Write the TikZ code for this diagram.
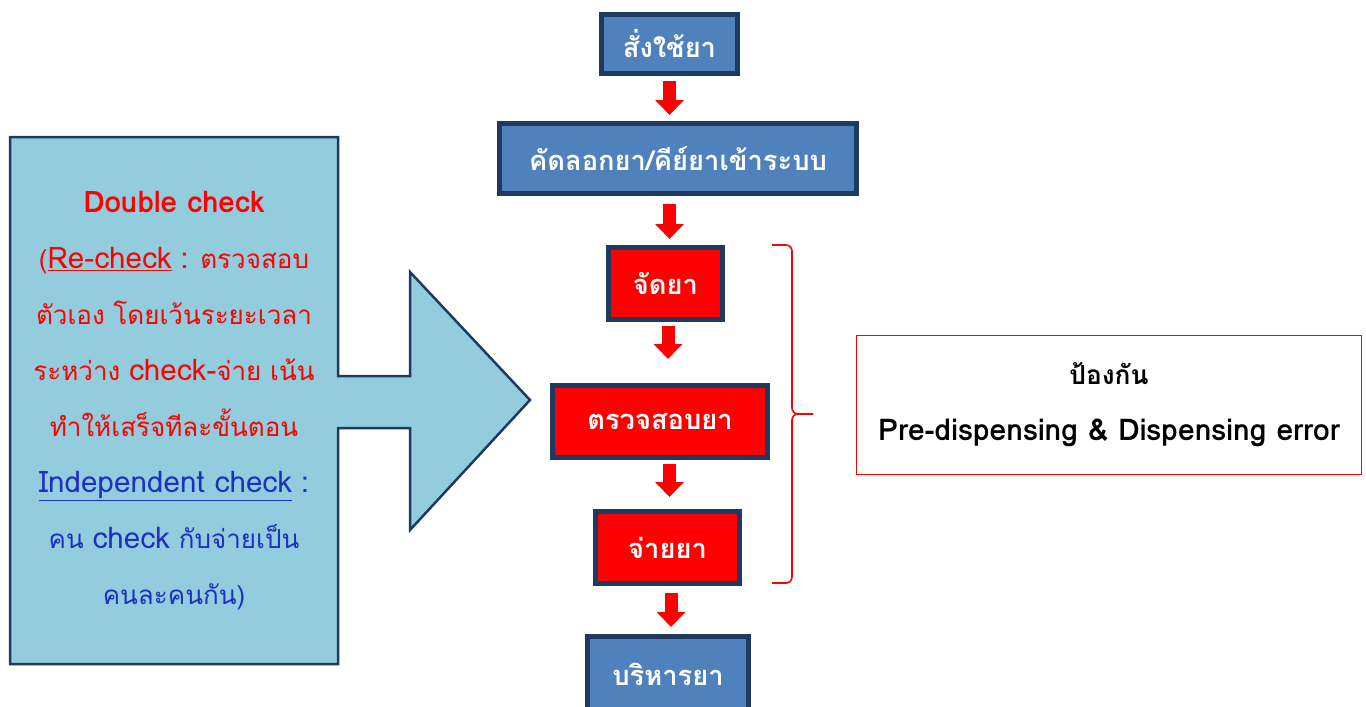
\documentclass[tikz,border=0pt]{standalone}
\usepackage{fontspec}
\setmainfont[Script=Thai]{Loma}
\newfontfamily\latinf[Scale=1.14]{Loma}
\usetikzlibrary{arrows.meta,positioning}
\definecolor{flowblue}{HTML}{4F81BD}
\definecolor{flownavy}{HTML}{1F3A5F}
\definecolor{flowred}{HTML}{FF0000}
\definecolor{callfill}{HTML}{93CDDD}
\definecolor{textblue}{HTML}{1F2FBF}
\newcommand{\lat}[1]{{\latinf #1}}
\tikzset{
  stepbox/.style={draw=flownavy,line width=5pt,fill=flowblue,text=white,inner sep=0pt,font=\fontsize{27.3}{30}\selectfont\bfseries},
  redbox/.style={stepbox,fill=flowred},
  flowarr/.style={draw=flowred,line width=13pt,-{Triangle[width=28pt,length=15pt]}},
  bracel/.style={draw=flowred,line width=1.6pt,rounded corners=6pt},
  callout/.style={draw=flownavy,line width=2.5pt,fill=callfill},
  calltext/.style={align=center,inner sep=0pt,font=\fontsize{26}{56}\selectfont},
  notebox/.style={draw=flowred,line width=1.5pt,fill=white,align=center,inner sep=0pt,font=\fontsize{26.3}{56}\selectfont\bfseries,minimum width=505pt,minimum height=139pt},
}

\begin{document}
\begin{tikzpicture}[x=1pt,y=-1pt]
  \useasboundingbox (0,0) rectangle (1366,707);
  % flow boxes
  \node[stepbox,minimum width=136pt,minimum height=59pt] (order) at (669.5,44) {สั่งใช้ยา};
  \node[stepbox,minimum width=357pt,minimum height=70pt] (copy) at (678,158.5) {คัดลอกยา/คีย์ยาเข้าระบบ};
  \node[redbox,minimum width=114pt,minimum height=72pt] (prep) at (665.5,283.5) {จัดยา};
  \node[redbox,minimum width=215pt,minimum height=72pt] (verify) at (660,421.5) {ตรวจสอบยา};
  \node[redbox,minimum width=144pt,minimum height=72pt] (dispense) at (667.5,547.5) {จ่ายยา};
  \node[stepbox,minimum width=161pt,minimum height=75pt] (admin) at (668,674) {บริหารยา};
  \coordinate (axis) at (669.5,0);

  \draw[flowarr,shorten <=5pt,shorten >=6pt] (order.south -| axis) -- (copy.north -| axis);
  \draw[flowarr,shorten <=8pt,shorten >=6pt] (copy.south -| axis) -- (prep.north -| axis);
  \draw[flowarr,shorten <=4pt,shorten >=24pt] ([xshift=-1.5pt]prep.south -| axis) -- ([xshift=-1.5pt]verify.north -| axis);
  \draw[flowarr,shorten <=4pt,shorten >=12pt] (verify.south -| axis) -- (dispense.north -| axis);
  \draw[flowarr,shorten <=7pt,shorten >=7pt] ([xshift=1.5pt]dispense.south -| axis) -- ([xshift=1.5pt]admin.north -| axis);

  % brace and note
  \coordinate (brtop) at (772,245);
  \coordinate (brbot) at (772,583);
  \coordinate (brtip) at (813,414);
  \draw[bracel] (brtop) -- (792,245) -- (792,414) -- (brtip);
  \draw[bracel] (brbot) -- (792,583) -- (792,414) -- (brtip);
  \node[notebox] (prevent) at (1109,405) {ป้องกัน\\\lat{Pre-dispensing \& Dispensing error}};

  % double check callout
  \draw[callout] (10,137) -- (338,137) -- (338,376) -- (410,376) -- (410,272)
    -- (530,400) -- (410,530) -- (410,428) -- (338,428) -- (338,664) -- (10,664) -- cycle;
  \node[calltext] (dblcheck) at (174,401) {%
    \textcolor{flowred}{\textbf{\lat{Double check}}}\\
    \textcolor{flowred}{(\underline{\lat{Re-check}} \lat{:} ตรวจสอบ}\\
    \textcolor{flowred}{ตัวเอง โดยเว้นระยะเวลา}\\
    \textcolor{flowred}{ระหว่าง \lat{check-}จ่าย เน้น}\\
    \textcolor{flowred}{ทำให้เสร็จทีละขั้นตอน}\\
    \textcolor{textblue}{\underline{\lat{Independent check}} \lat{:}}\\
    \textcolor{textblue}{คน \lat{check} กับจ่ายเป็น}\\
    \textcolor{textblue}{คนละคนกัน)}};
\end{tikzpicture}
\end{document}
